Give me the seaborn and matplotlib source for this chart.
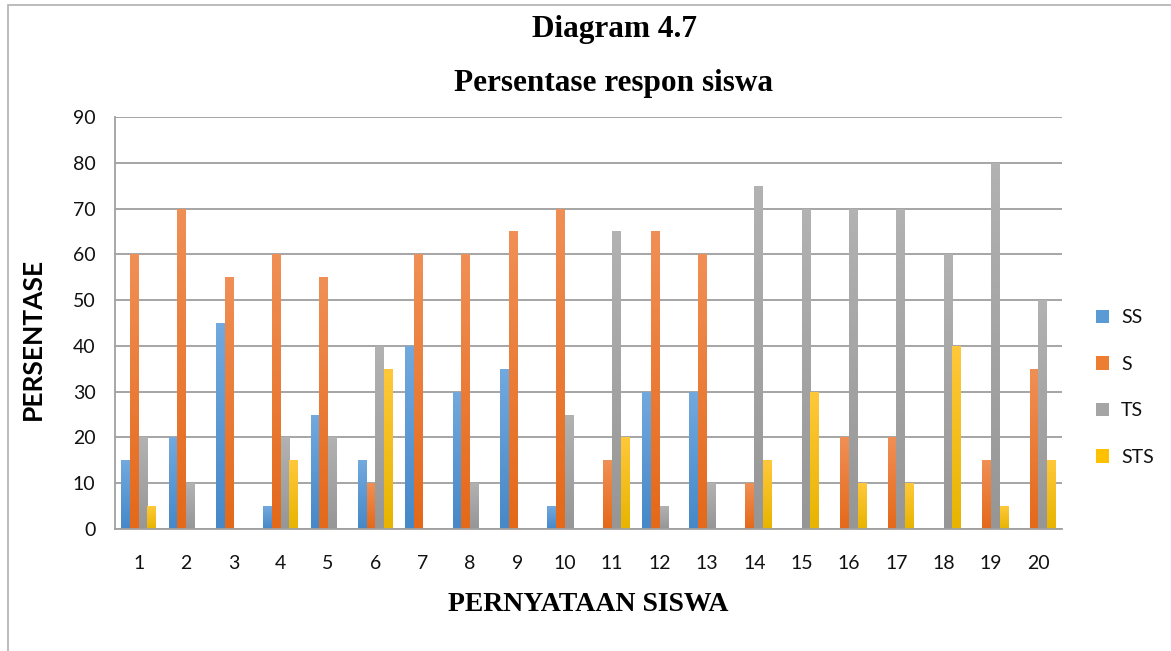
import matplotlib
matplotlib.use("Agg")
import matplotlib.pyplot as plt
import seaborn as sns
import pandas as pd
import numpy as np
from matplotlib.patches import Rectangle, Patch
from matplotlib.colors import LinearSegmentedColormap

categories = [str(i) for i in range(1, 21)]
ss  = [15, 20, 45, 5, 25, 15, 40, 30, 35, 5, 0, 30, 30, 0, 0, 0, 0, 0, 0, 0]
s   = [60, 70, 55, 60, 55, 10, 60, 60, 65, 70, 15, 65, 60, 10, 0, 20, 20, 0, 15, 35]
ts  = [20, 10, 0, 20, 20, 40, 0, 10, 0, 25, 65, 5, 10, 75, 70, 70, 70, 60, 80, 50]
sts = [5, 0, 0, 15, 0, 35, 0, 0, 0, 0, 20, 0, 0, 15, 30, 10, 10, 40, 5, 15]
series_names = ["SS", "S", "TS", "STS"]
colors = ["#5B9BD5", "#ED7D31", "#A5A5A5", "#FFC000"]
grad_top = ["#72A9DE", "#F08F55", "#B2B2B2", "#FFC83A"]
grad_bot = ["#4688C8", "#E4691A", "#969696", "#E8B400"]

rows = []
for name, vals in zip(series_names, [ss, s, ts, sts]):
    for c, v in zip(categories, vals):
        rows.append({"cat": c, "series": name, "val": v})
df = pd.DataFrame(rows)

sns.set_theme(style="white")
plt.rcParams['font.family'] = ['Lato', 'DejaVu Sans']

fig = plt.figure(figsize=(11.71, 6.51), dpi=100)
ax = fig.add_axes([115/1171, 1 - 529/651, (1062 - 115)/1171, (529 - 117)/651])

sns.barplot(data=df, x="cat", y="val", hue="series", hue_order=series_names,
            order=categories, palette=colors, width=0.74, gap=0, ax=ax,
            saturation=1, linewidth=0)

ax.set_ylim(0, 90)
ax.set_yticks(range(0, 91, 10))
ax.set_xlim(-0.5, 19.5)

# gradient fill for bars
for i, cont in enumerate(ax.containers):
    cmap = LinearSegmentedColormap.from_list("g%d" % i, [grad_bot[i], grad_top[i]])
    for bar in cont:
        h = bar.get_height()
        if h <= 0:
            continue
        x0 = bar.get_x()
        w = bar.get_width()
        grad = np.linspace(0, 1, 64).reshape(-1, 1)
        im = ax.imshow(grad, cmap=cmap, origin="lower", aspect="auto",
                       extent=(x0, x0 + w, 0, h), zorder=2)
        im.set_clip_path(bar)
        bar.set_visible(False)
ax.set_ylim(0, 90)
ax.set_xlim(-0.5, 19.5)

ax.grid(axis="y", color="#9E9E9E", linewidth=1.3)
ax.set_axisbelow(True)
for sp in ["top", "right"]:
    ax.spines[sp].set_visible(False)
for sp in ["left", "bottom"]:
    ax.spines[sp].set_color("#A0A0A0")
    ax.spines[sp].set_linewidth(1.3)
ax.tick_params(axis="y", length=8, color="#A0A0A0", width=1.3, labelsize=14, pad=6)
ax.tick_params(axis="x", length=0, labelsize=14, pad=19)
for lab in ax.get_xticklabels() + ax.get_yticklabels():
    lab.set_color("#111111")

ax.set_xlabel("PERNYATAAN SISWA", family="Liberation Serif", fontweight="bold",
              fontsize=20, labelpad=14, color="black")
ax.set_ylabel("PERSENTASE", fontweight="bold", fontsize=19, color="black")
ax.yaxis.set_label_coords((45 - 115) / 947, (529 - 339) / 412)

handles = [Patch(facecolor=c, edgecolor="none") for c in colors]
leg = ax.legend(handles, series_names, loc="center left", bbox_to_anchor=(1.017, 0.343),
                frameon=False, fontsize=14, labelspacing=1.52, handlelength=0.7,
                handleheight=0.7, handletextpad=0.6)
for t in leg.get_texts():
    t.set_color("#111111")

fig.text(614/1171, 1 - 30/651, "Diagram 4.7", ha="center", va="center",
         family="Liberation Serif", fontweight="bold", fontsize=22.5, color="black")
fig.text(614/1171, 1 - 83/651, "Persentase respon siswa", ha="center", va="center",
         family="Liberation Serif", fontweight="bold", fontsize=22.5, color="black")

fig.patches.append(Rectangle((8/1171, -0.1), 1.2, 1 - 5/651 + 0.1,
                             transform=fig.transFigure, fill=False,
                             edgecolor="#B0B0B0", linewidth=1.2))

fig.savefig("out.png", dpi=100)
